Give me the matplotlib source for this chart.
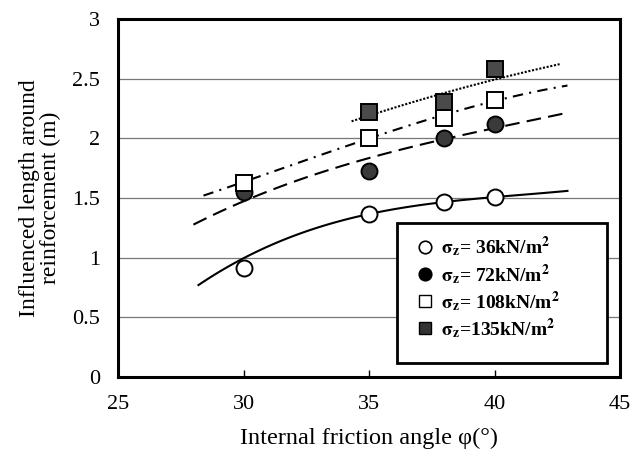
import numpy as np
import matplotlib.pyplot as plt
from matplotlib.lines import Line2D
from matplotlib.patches import Rectangle

plt.rcParams['font.family'] = ['Liberation Serif', 'DejaVu Serif']
plt.rcParams['mathtext.fontset'] = 'stix'

# measured points: friction angle (deg) vs influenced length (m)
phi = [30, 35, 38, 40]
len_36 = [0.91, 1.37, 1.47, 1.51]
len_72 = [1.55, 1.73, 2.00, 2.12]
len_108 = [1.63, 2.00, 2.17, 2.32]
phi_135 = [35, 38, 40]
len_135 = [2.22, 2.31, 2.58]

# trend lines
tr_phi_36 = [28.2, 29.7, 34.9, 35.4, 37.9, 40.0, 42.9]
tr_len_36 = [0.76, 0.98, 1.35, 1.38, 1.47, 1.515, 1.557]
tr_phi_72 = [28.0, 29.7, 31.6, 34.9, 35.4, 37.9, 40.0, 42.7]
tr_len_72 = [1.263, 1.47, 1.61, 1.82, 1.84, 2.00, 2.10, 2.20]
tr_phi_108 = [28.4, 30.3, 34.3, 35.4, 38.4, 40.7, 42.9]
tr_len_108 = [1.51, 1.68, 1.93, 2.03, 2.23, 2.355, 2.44]
tr_phi_135 = [34.3, 35.4, 37.9, 39.8, 42.6]
tr_len_135 = [2.14, 2.23, 2.355, 2.50, 2.62]

labels = [r"$\mathbf{\sigma}_{\mathbf{z}}$= 36kN/m$^{\mathbf{2}}$",
          r"$\mathbf{\sigma}_{\mathbf{z}}$= 72kN/m$^{\mathbf{2}}$",
          r"$\mathbf{\sigma}_{\mathbf{z}}$= 108kN/m$^{\mathbf{2}}$",
          r"$\mathbf{\sigma}_{\mathbf{z}}$=135kN/m$^{\mathbf{2}}$"]

fig = plt.figure(figsize=(6.42, 4.58), dpi=100)
ax = fig.add_axes([0.184, 0.177, 0.782, 0.781])


def trend(x, y, deg, style):
    # smooth the read-off points
    c = np.polyfit(x, y, deg)
    xs = np.linspace(min(x), max(x), 120)
    ax.plot(xs, np.polyval(c, xs), color='black', linestyle=style, lw=1.5, zorder=2)


trend(tr_phi_36, tr_len_36, 3, '-')
trend(tr_phi_72, tr_len_72, 3, (0, (7, 3.5)))
trend(tr_phi_108, tr_len_108, 3, (0, (5, 3, 1, 3)))
trend(tr_phi_135, tr_len_135, 2, (0, (1, 0.8)))

ax.plot(phi, len_36, 'o', ms=11.5, mfc='white', mec='black', mew=1.4, zorder=3)
ax.plot(phi, len_72, 'o', ms=11.5, mfc='#3a3a3a', mec='black', mew=1.4, zorder=3)
ax.plot(phi, len_108, 's', ms=12, mfc='white', mec='black', mew=1.4, zorder=4)
ax.plot(phi_135, len_135, 's', ms=12, mfc='#4a4a4a', mec='black', mew=1.4, zorder=4)

ax.set_xlim(25, 45)
ax.set_ylim(0, 3)
ax.set_xticks([25, 30, 35, 40, 45])
ax.set_yticks([0, 0.5, 1, 1.5, 2, 2.5, 3])
ax.set_yticklabels(['0', '0.5', '1', '1.5', '2', '2.5', '3'])
ax.yaxis.grid(True, color='#777777', lw=0.9)
ax.set_axisbelow(True)
ax.tick_params(axis='x', direction='in', length=5, width=1, labelsize=16, pad=13)
ax.tick_params(axis='y', length=0, labelsize=16, pad=13)
for s in ax.spines.values():
    s.set_linewidth(2.2)

ax.set_xlabel("Internal friction angle φ(°)", fontsize=17.5, labelpad=10)
ax.set_ylabel("Influenced length around\nreinforcement (m)", fontsize=17, labelpad=8,
              linespacing=1.0)

# legend box drawn by hand to match the original spacing
ax.add_patch(Rectangle((0.556, 0.039), 0.418, 0.391, transform=ax.transAxes,
                       facecolor='white', edgecolor='black', lw=2, zorder=5))
handles = [
    Line2D([], [], ls='none', marker='o', ms=9, mfc='white', mec='black', mew=1.2),
    Line2D([], [], ls='none', marker='o', ms=9, mfc='black', mec='black', mew=1.2),
    Line2D([], [], ls='none', marker='s', ms=9, mfc='white', mec='black', mew=1.0),
    Line2D([], [], ls='none', marker='s', ms=9, mfc='#333333', mec='black', mew=1.0),
]
leg = ax.legend(handles, labels, loc='upper left', bbox_to_anchor=(0.592, 0.398),
                frameon=False, prop={'size': 14, 'weight': 'bold'},
                handletextpad=0.3, borderpad=0.0, labelspacing=0.12,
                handlelength=1.0, borderaxespad=0)
leg.set_zorder(6)

plt.savefig("out.png", dpi=100)
